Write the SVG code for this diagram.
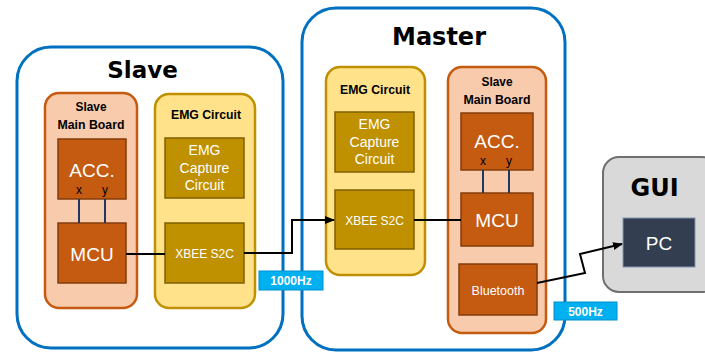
<svg xmlns="http://www.w3.org/2000/svg" width="705" height="354" viewBox="0 0 705 354">
<defs>
<style>
.outer{fill:#ffffff;stroke:#0070c0;stroke-width:3}
.board{fill:#f8cbad;stroke:#c55a11;stroke-width:2.5}
.emg{fill:#ffe28a;stroke:#bf9000;stroke-width:2.5}
.ob{fill:#c55a11;stroke:#843c0c;stroke-width:1.5}
.gb{fill:#bf9000;stroke:#7f6000;stroke-width:1.5}
.big{font-family:"DejaVu Sans",sans-serif;font-weight:bold;fill:#000;text-anchor:middle}
.hd{font-family:"Liberation Sans",Arial,sans-serif;font-weight:bold;font-size:13.5px;fill:#000;text-anchor:middle}
.wt{font-family:"Liberation Sans",Arial,sans-serif;fill:#ffffff;text-anchor:middle}
.xy{font-family:"Liberation Sans",Arial,sans-serif;font-size:12px;fill:#000;text-anchor:middle}
.lbl{fill:#00b0f0;stroke:#0090d0;stroke-width:1}
.lt{font-family:"Liberation Sans",Arial,sans-serif;font-weight:bold;font-size:12px;fill:#ffffff;text-anchor:middle}
.wire{fill:none;stroke:#000;stroke-width:2}
.bus{fill:none;stroke:#203864;stroke-width:2}
</style>
<marker id="ah" markerWidth="10" markerHeight="8" refX="9" refY="4" orient="auto" markerUnits="userSpaceOnUse">
<path d="M0,0 L10,4 L0,8 z" fill="#000"/>
</marker>
</defs>

<g id="slave">
<rect class="outer" x="17" y="47" width="266" height="301" rx="34"/>
<text class="big" x="142.5" y="78" font-size="23">Slave</text>
</g>
<g id="slave-board">
<rect class="board" x="45" y="93" width="92" height="215" rx="14"/>
<text class="hd" x="91" y="111" textLength="31" lengthAdjust="spacingAndGlyphs">Slave</text>
<text class="hd" x="91" y="129" textLength="67" lengthAdjust="spacingAndGlyphs">Main Board</text>
</g>
<g id="slave-acc">
<rect class="ob" x="58" y="139" width="68" height="60"/>
<text class="wt" x="92" y="177" font-size="19">ACC.</text>
<text class="xy" x="79" y="194">x</text>
<text class="xy" x="105" y="194">y</text>
</g>
<g id="slave-mcu">
<rect class="ob" x="58" y="223" width="68" height="60"/>
<text class="wt" x="92" y="261" font-size="19">MCU</text>
</g>
<g id="slave-emg">
<rect class="emg" x="155" y="94" width="100" height="214" rx="14"/>
<text class="hd" x="206" y="119" textLength="70" lengthAdjust="spacingAndGlyphs">EMG Circuit</text>
</g>
<g id="slave-capture">
<rect class="gb" x="165" y="138" width="79" height="60"/>
<text class="wt" x="204.5" y="155" font-size="14">EMG</text>
<text class="wt" x="204.5" y="173" font-size="14">Capture</text>
<text class="wt" x="204.5" y="190" font-size="14">Circuit</text>
</g>
<g id="slave-xbee">
<rect class="gb" x="165" y="223" width="79" height="60"/>
<text class="wt" x="204.5" y="258" font-size="12">XBEE S2C</text>
</g>

<g id="master">
<rect class="outer" x="302" y="8" width="263" height="342" rx="34"/>
<text class="big" x="439" y="45" font-size="24">Master</text>
</g>
<g id="master-emg">
<rect class="emg" x="326" y="67" width="99" height="208" rx="14"/>
<text class="hd" x="375" y="94" textLength="70" lengthAdjust="spacingAndGlyphs">EMG Circuit</text>
</g>
<g id="master-capture">
<rect class="gb" x="335" y="112" width="79" height="60"/>
<text class="wt" x="374.5" y="129" font-size="14">EMG</text>
<text class="wt" x="374.5" y="147" font-size="14">Capture</text>
<text class="wt" x="374.5" y="164" font-size="14">Circuit</text>
</g>
<g id="master-xbee">
<rect class="gb" x="335" y="190" width="79" height="59"/>
<text class="wt" x="374.5" y="225" font-size="12">XBEE S2C</text>
</g>
<g id="master-board">
<rect class="board" x="448" y="67" width="98" height="266" rx="14"/>
<text class="hd" x="497" y="86" textLength="31" lengthAdjust="spacingAndGlyphs">Slave</text>
<text class="hd" x="497" y="104" textLength="67" lengthAdjust="spacingAndGlyphs">Main Board</text>
</g>
<g id="master-acc">
<rect class="ob" x="461" y="113" width="72" height="57"/>
<text class="wt" x="497" y="148" font-size="19">ACC.</text>
<text class="xy" x="483" y="165">x</text>
<text class="xy" x="509" y="165">y</text>
</g>
<g id="master-mcu">
<rect class="ob" x="461" y="193" width="72" height="53"/>
<text class="wt" x="497" y="227" font-size="19">MCU</text>
</g>
<g id="master-bt">
<rect class="ob" x="459" y="264" width="78" height="51"/>
<text class="wt" x="498" y="295" font-size="12.5">Bluetooth</text>
</g>

<g id="gui">
<rect x="603" y="157" width="115" height="135" rx="16" fill="#d9d9d9" stroke="#6f6f6f" stroke-width="2"/>
<text class="big" x="654.5" y="196" font-size="24">GUI</text>
</g>
<g id="pc">
<rect x="623" y="218" width="72" height="49" fill="#333f50" stroke="#8497b0" stroke-width="1"/>
<text class="wt" x="659" y="250" font-size="19">PC</text>
</g>

<g id="connectors">
<line class="bus" x1="79" y1="199" x2="79" y2="223"/>
<line class="bus" x1="105" y1="199" x2="105" y2="223"/>
<line class="bus" x1="483" y1="170" x2="483" y2="193"/>
<line class="bus" x1="509" y1="170" x2="509" y2="193"/>
<line class="wire" x1="126" y1="254" x2="165" y2="254"/>
<line class="wire" x1="414" y1="220" x2="461" y2="220"/>
<path class="wire" d="M244,253 H292 V220 H334" marker-end="url(#ah)"/>
<path class="wire" d="M537,283 L585,273 L580,254 L622,244" marker-end="url(#ah)"/>
</g>

<g id="label-1000">
<rect class="lbl" x="259" y="271" width="64" height="19"/>
<text class="lt" x="291" y="285">1000Hz</text>
</g>
<g id="label-500">
<rect class="lbl" x="554" y="302" width="63" height="18"/>
<text class="lt" x="585.5" y="316">500Hz</text>
</g>
</svg>
